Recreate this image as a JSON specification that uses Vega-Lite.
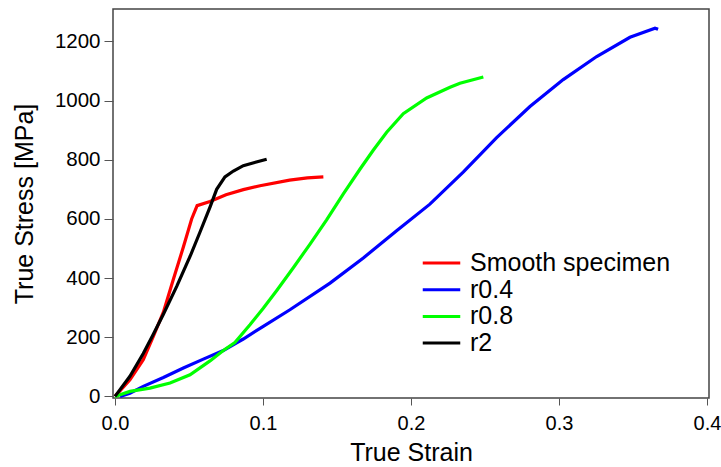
{
  "$schema": "https://vega.github.io/schema/vega-lite/v6.json",
  "width": 596,
  "height": 389,
  "autosize": {"type": "none"},
  "padding": {"left": 113, "top": 9, "right": 12, "bottom": 69},
  "background": "white",
  "config": {
    "view": {"stroke": "#444", "strokeWidth": 1.5},
    "font": "Liberation Sans"
  },
  "data": {
    "values": [
      {"series": "Smooth specimen", "strain": 0.0, "stress": 0},
      {"series": "Smooth specimen", "strain": 0.0101, "stress": 56},
      {"series": "Smooth specimen", "strain": 0.0191, "stress": 124},
      {"series": "Smooth specimen", "strain": 0.0259, "stress": 203},
      {"series": "Smooth specimen", "strain": 0.0327, "stress": 285},
      {"series": "Smooth specimen", "strain": 0.0394, "stress": 395},
      {"series": "Smooth specimen", "strain": 0.0462, "stress": 505},
      {"series": "Smooth specimen", "strain": 0.0518, "stress": 600},
      {"series": "Smooth specimen", "strain": 0.0555, "stress": 645},
      {"series": "Smooth specimen", "strain": 0.0642, "stress": 659},
      {"series": "Smooth specimen", "strain": 0.075, "stress": 682},
      {"series": "Smooth specimen", "strain": 0.0867, "stress": 699},
      {"series": "Smooth specimen", "strain": 0.098, "stress": 712},
      {"series": "Smooth specimen", "strain": 0.118, "stress": 731},
      {"series": "Smooth specimen", "strain": 0.13, "stress": 739},
      {"series": "Smooth specimen", "strain": 0.1408, "stress": 742},
      {"series": "r0.4", "strain": 0.0034, "stress": 0},
      {"series": "r0.4", "strain": 0.0101, "stress": 11},
      {"series": "r0.4", "strain": 0.0191, "stress": 34},
      {"series": "r0.4", "strain": 0.0327, "stress": 64},
      {"series": "r0.4", "strain": 0.0462, "stress": 96},
      {"series": "r0.4", "strain": 0.0597, "stress": 126},
      {"series": "r0.4", "strain": 0.0732, "stress": 155},
      {"series": "r0.4", "strain": 0.081, "stress": 178},
      {"series": "r0.4", "strain": 0.0867, "stress": 194},
      {"series": "r0.4", "strain": 0.1002, "stress": 237},
      {"series": "r0.4", "strain": 0.1182, "stress": 293},
      {"series": "r0.4", "strain": 0.1453, "stress": 383},
      {"series": "r0.4", "strain": 0.1678, "stress": 468},
      {"series": "r0.4", "strain": 0.1903, "stress": 560},
      {"series": "r0.4", "strain": 0.2128, "stress": 650},
      {"series": "r0.4", "strain": 0.2353, "stress": 758},
      {"series": "r0.4", "strain": 0.2579, "stress": 875},
      {"series": "r0.4", "strain": 0.2804, "stress": 980},
      {"series": "r0.4", "strain": 0.3029, "stress": 1071},
      {"series": "r0.4", "strain": 0.3255, "stress": 1149},
      {"series": "r0.4", "strain": 0.348, "stress": 1214},
      {"series": "r0.4", "strain": 0.3649, "stress": 1245},
      {"series": "r0.4", "strain": 0.367, "stress": 1241},
      {"series": "r0.8", "strain": 0.0, "stress": 0},
      {"series": "r0.8", "strain": 0.0101, "stress": 17},
      {"series": "r0.8", "strain": 0.0236, "stress": 28},
      {"series": "r0.8", "strain": 0.0372, "stress": 45},
      {"series": "r0.8", "strain": 0.0507, "stress": 73},
      {"series": "r0.8", "strain": 0.0642, "stress": 120},
      {"series": "r0.8", "strain": 0.0732, "stress": 155},
      {"series": "r0.8", "strain": 0.081, "stress": 182},
      {"series": "r0.8", "strain": 0.0912, "stress": 242},
      {"series": "r0.8", "strain": 0.1002, "stress": 298},
      {"series": "r0.8", "strain": 0.1093, "stress": 358},
      {"series": "r0.8", "strain": 0.1205, "stress": 435},
      {"series": "r0.8", "strain": 0.1318, "stress": 515},
      {"series": "r0.8", "strain": 0.143, "stress": 597},
      {"series": "r0.8", "strain": 0.1543, "stress": 685},
      {"series": "r0.8", "strain": 0.1655, "stress": 768},
      {"series": "r0.8", "strain": 0.1745, "stress": 832},
      {"series": "r0.8", "strain": 0.1836, "stress": 893},
      {"series": "r0.8", "strain": 0.1948, "stress": 956},
      {"series": "r0.8", "strain": 0.2106, "stress": 1009},
      {"series": "r0.8", "strain": 0.2264, "stress": 1045},
      {"series": "r0.8", "strain": 0.2331, "stress": 1059},
      {"series": "r0.8", "strain": 0.2489, "stress": 1080},
      {"series": "r2", "strain": 0.0, "stress": 0},
      {"series": "r2", "strain": 0.0101, "stress": 68},
      {"series": "r2", "strain": 0.0191, "stress": 145},
      {"series": "r2", "strain": 0.0259, "stress": 210},
      {"series": "r2", "strain": 0.0327, "stress": 278},
      {"series": "r2", "strain": 0.0417, "stress": 372},
      {"series": "r2", "strain": 0.0507, "stress": 473},
      {"series": "r2", "strain": 0.0574, "stress": 555},
      {"series": "r2", "strain": 0.0642, "stress": 640},
      {"series": "r2", "strain": 0.0687, "stress": 700},
      {"series": "r2", "strain": 0.0743, "stress": 742},
      {"series": "r2", "strain": 0.08, "stress": 762},
      {"series": "r2", "strain": 0.0867, "stress": 780},
      {"series": "r2", "strain": 0.1025, "stress": 802}
    ]
  },
  "mark": {"type": "line", "strokeWidth": 3.2},
  "encoding": {
    "x": {
      "field": "strain",
      "type": "quantitative",
      "scale": {"domain": [-0.00135, 0.4014], "nice": false, "zero": false},
      "axis": {
        "values": [0, 0.1, 0.2, 0.3, 0.4],
        "format": ".1f",
        "title": "True Strain",
        "grid": false,
        "domain": false,
        "tickSize": 7,
        "tickColor": "#555",
        "labelFontSize": 20,
        "labelColor": "#000",
        "labelPadding": 8,
        "labelFlush": false,
        "titleFontSize": 25,
        "titleFontWeight": "normal",
        "titleColor": "#000",
        "titleBaseline": "alphabetic",
        "titleY": 62
      }
    },
    "y": {
      "field": "stress",
      "type": "quantitative",
      "scale": {"domain": [-5.4, 1309.7], "nice": false, "zero": false},
      "axis": {
        "values": [0, 200, 400, 600, 800, 1000, 1200],
        "format": "d",
        "title": "True Stress [MPa]",
        "grid": false,
        "domain": false,
        "tickSize": 9,
        "tickColor": "#555",
        "labelFontSize": 20.5,
        "labelColor": "#000",
        "labelPadding": 4,
        "labelFlush": false,
        "titleFontSize": 25,
        "titleFontWeight": "normal",
        "titleColor": "#000",
        "titleBaseline": "alphabetic",
        "titleX": -80.5
      }
    },
    "color": {
      "field": "series",
      "type": "nominal",
      "scale": {
        "domain": ["Smooth specimen", "r0.4", "r0.8", "r2"],
        "range": ["#ff0000", "#0000ff", "#00ff00", "#000000"]
      },
      "legend": {
        "orient": "none",
        "legendX": 316,
        "legendY": 241.5,
        "title": null,
        "padding": 0,
        "symbolType": "M-2.5,0H2.5",
        "symbolSize": 225,
        "symbolStrokeWidth": 3,
        "labelFontSize": 25,
        "labelColor": "#000",
        "labelOffset": 16,
        "labelLimit": 0,
        "rowPadding": 0.7
      }
    }
  }
}
